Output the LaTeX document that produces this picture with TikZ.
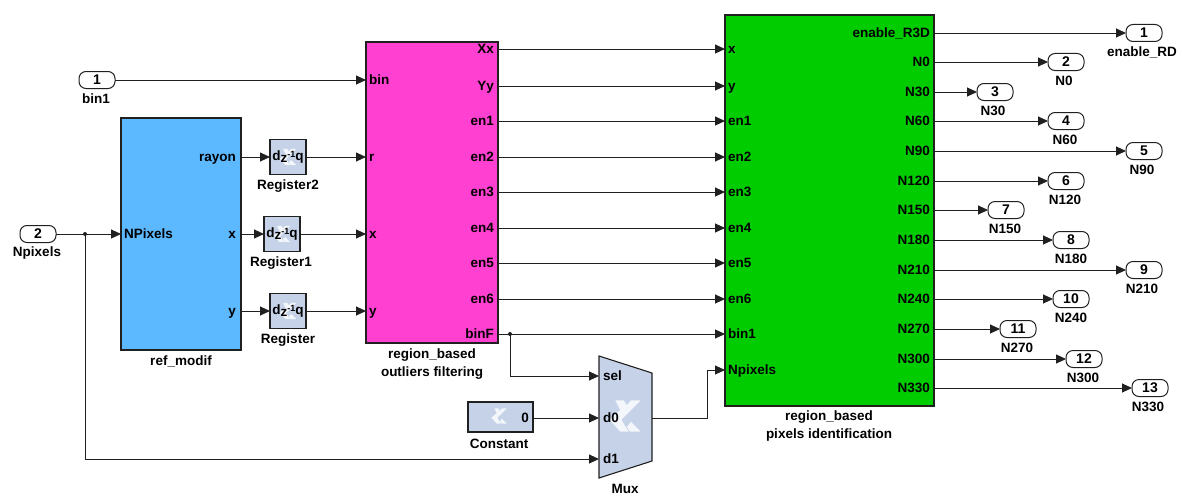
\documentclass[tikz,border=0pt]{standalone}
\usepackage{fontspec}
\setmainfont{Liberation Sans}
\usetikzlibrary{arrows.meta}
\usetikzlibrary{calc}
\usetikzlibrary{positioning}

\definecolor{wirecol}{HTML}{202020}
\definecolor{modifcol}{HTML}{5CB8FF}
\definecolor{filtercol}{HTML}{FF40D0}
\definecolor{identcol}{HTML}{00CC00}
\definecolor{xilcol}{HTML}{C5D2E8}

\newcommand{\regtext}{d\raisebox{-2pt}{z}\raisebox{3pt}{\fontsize{9pt}{9pt}\selectfont -1}q}

\begin{document}
\begin{tikzpicture}[
		x=1pt,
		y=-1pt,
		font=\fontsize{13.5pt}{15pt}\selectfont\bfseries,
		>={Triangle[length=10pt,width=9pt]},
		wire/.style={draw=wirecol,line width=0.9pt},
	]
		\tikzset{block/.style={
			draw=wirecol,
			rectangle,
			line width=1.1pt,
			inner sep=0,
			outer sep=0,
		}}
		\tikzset{portbox/.style={
			draw=wirecol,
			rectangle,
			rounded corners=7,
			line width=1pt,
			fill=white,
			minimum width=36,
			minimum height=17,
			inner sep=0,
			outer sep=0,
			font=\fontsize{14pt}{15pt}\selectfont\bfseries,
		}}
		\tikzset{regbox/.style={
			block,
			fill=xilcol,
			minimum width=36,
			minimum height=35,
		}}
		\tikzset{lab/.style={
			inner sep=0,
			anchor=center,
		}}
		\tikzset{pinl/.style={
			inner sep=0,
			anchor=west,
			text height=10,
			text depth=1,
		}}
		\tikzset{pinr/.style={
			inner sep=0,
			anchor=east,
			text height=10,
			text depth=1,
		}}
		\tikzset{logo/.pic={
			\fill[white,opacity=0.8] (-8,-13) -- (-1,-13) -- (1.5,-9) -- (5,-13) -- (13,-13) -- (1,-1) -- (-3,3) -- (0,8) -- (3,13) -- (-4,13) -- (-13,3) -- (-4,-5) -- cycle;
			\fill[white,opacity=0.8] (5,5) -- (13,13) -- (4,13) -- (1.5,9) -- cycle;
		}}
		\useasboundingbox (0,0) rectangle (1182,495);

		%---------------------------------
		% Input
		\node[portbox] (bin1) at (97,80) {1};
		\node[lab] (bin1lab) at (96,99) {bin1};
		\node[portbox] (npix) at (38,234) {2};
		\node[lab] (npixlab) at (37,253) {Npixels};

		%---------------------------------
		% ref_modif
		\node[
			block,
			fill=modifcol,
			minimum width=120,
			minimum height=232,
		] (modif) at (181,234) {};
		\node[lab] (modiflab) at (181,361) {ref\_modif};
		\node[pinl] (modifn) at (124,234) {NPixels};
		\node[pinr] (modifr) at (236,157) {rayon};
		\node[pinr] (modifx) at (236,234) {x};
		\node[pinr] (modify) at (236,311) {y};

		%---------------------------------
		% Registers
		\node[regbox] (reg2) at (288,157) {};
		\node[regbox] (reg1) at (282,234) {};
		\node[regbox] (reg0) at (288,311) {};
		\pic[scale=0.62] at (reg2) {logo};
		\pic[scale=0.62] at (reg1) {logo};
		\pic[scale=0.62] at (reg0) {logo};
		\node[lab] (reg2txt) at (288,157) {\regtext};
		\node[lab] (reg1txt) at (282,234) {\regtext};
		\node[lab] (reg0txt) at (288,311) {\regtext};
		\node[lab] (reg2lab) at (288,186) {Register2};
		\node[lab] (reg1lab) at (281,263) {Register1};
		\node[lab] (reg0lab) at (288,340) {Register};

		%---------------------------------
		% outliers filtering
		\node[
			block,
			fill=filtercol,
			minimum width=132,
			minimum height=301,
		] (filter) at (432,192.5) {};
		\node[
			lab,
			align=center,
			font=\fontsize{13.5pt}{17.5pt}\selectfont\bfseries,
		] (filterlab) at (432,364) {region\_based\\outliers filtering};
		\node[pinl] (filterbin) at (369,80) {bin};
		\node[pinl] (filterr) at (369,157) {r};
		\node[pinl] (filterx) at (369,234) {x};
		\node[pinl] (filtery) at (369,311) {y};
		\node[pinr] (fxx) at (494,49) {Xx};
		\node[pinr] (fyy) at (494,86) {Yy};
		\node[pinr] (fen1) at (494,121) {en1};
		\node[pinr] (fen2) at (494,157) {en2};
		\node[pinr] (fen3) at (494,192) {en3};
		\node[pinr] (fen4) at (494,228) {en4};
		\node[pinr] (fen5) at (494,263) {en5};
		\node[pinr] (fen6) at (494,299) {en6};
		\node[pinr] (fbinf) at (494,334) {binF};

		%---------------------------------
		% pixels identification
		\node[
			block,
			fill=identcol,
			minimum width=209,
			minimum height=391,
		] (ident) at (829.5,210.5) {};
		\node[
			lab,
			align=center,
			font=\fontsize{13.5pt}{17.5pt}\selectfont\bfseries,
		] (identlab) at (829,426) {region\_based\\pixels identification};
		\node[pinl] (gx) at (728,49) {x};
		\node[pinl] (gy) at (728,86) {y};
		\node[pinl] (gen1) at (728,121) {en1};
		\node[pinl] (gen2) at (728,157) {en2};
		\node[pinl] (gen3) at (728,192) {en3};
		\node[pinl] (gen4) at (728,228) {en4};
		\node[pinl] (gen5) at (728,263) {en5};
		\node[pinl] (gen6) at (728,299) {en6};
		\node[pinl] (gbin) at (728,334) {bin1};
		\node[pinl] (gnpix) at (728,370) {Npixels};
		\node[pinr] (gr3d) at (930,33) {enable\_R3D};
		\node[pinr] (gn0) at (930,62) {N0};
		\node[pinr] (gn30) at (930,92) {N30};
		\node[pinr] (gn60) at (930,121) {N60};
		\node[pinr] (gn90) at (930,151) {N90};
		\node[pinr] (gn120) at (930,181) {N120};
		\node[pinr] (gn150) at (930,210) {N150};
		\node[pinr] (gn180) at (930,240) {N180};
		\node[pinr] (gn210) at (930,270) {N210};
		\node[pinr] (gn240) at (930,299) {N240};
		\node[pinr] (gn270) at (930,329) {N270};
		\node[pinr] (gn300) at (930,359) {N300};
		\node[pinr] (gn330) at (930,388) {N330};

		%---------------------------------
		% Constant and Mux
		\node[
			block,
			fill=xilcol,
			minimum width=65,
			minimum height=30,
		] (const) at (500.5,417) {};
		\pic[scale=0.58] at (499,416) {logo};
		\node[pinr] (constval) at (529,418) {0};
		\node[lab] (constlab) at (499,444) {Constant};

		\coordinate (muxtl) at (599,356);
		\coordinate (muxtr) at (652,373);
		\coordinate (muxbr) at (652,461);
		\coordinate (muxbl) at (599,478);
		\coordinate (muxsel) at (599,376);
		\coordinate (muxd0) at (599,418);
		\coordinate (muxd1) at (599,459);
		\coordinate (muxout) at (652,418);
		\coordinate (muxbend) at (707,418);
		\fill[xilcol] (muxtl) -- (muxtr) -- (muxbr) -- (muxbl) -- cycle;
		\pic[scale=1.2] at (625,416) {logo};
		\draw[block] (muxtl) -- (muxtr) -- (muxbr) -- (muxbl) -- cycle;
		\node[pinl] (muxsellab) at (603,376) {sel};
		\node[pinl] (muxd0lab) at (603,418) {d0};
		\node[pinl] (muxd1lab) at (603,459) {d1};
		\node[lab] (muxlab) at (625,488.5) {Mux};

		%---------------------------------
		% Output
		\node[portbox,anchor=west] (o1) at (1126,33) {1};
		\node[portbox,anchor=west] (o2) at (1048,62) {2};
		\node[portbox,anchor=west] (o3) at (977,92) {3};
		\node[portbox,anchor=west] (o4) at (1048,121) {4};
		\node[portbox,anchor=west] (o5) at (1126,151) {5};
		\node[portbox,anchor=west] (o6) at (1048,181) {6};
		\node[portbox,anchor=west] (o7) at (988,210) {7};
		\node[portbox,anchor=west] (o8) at (1053,240) {8};
		\node[portbox,anchor=west] (o9) at (1126,270) {9};
		\node[portbox,anchor=west] (o10) at (1053,299) {10};
		\node[portbox,anchor=west] (o11) at (1000,329) {11};
		\node[portbox,anchor=west] (o12) at (1066,359) {12};
		\node[portbox,anchor=west] (o13) at (1132,388) {13};

		\node[lab] (o1lab) at (1142,52) {enable\_RD};
		\node[lab] (o2lab) at (1064,81) {N0};
		\node[lab] (o3lab) at (993,111) {N30};
		\node[lab] (o4lab) at (1065,140) {N60};
		\node[lab] (o5lab) at (1142,170) {N90};
		\node[lab] (o6lab) at (1065,200) {N120};
		\node[lab] (o7lab) at (1005,229) {N150};
		\node[lab] (o8lab) at (1071,259) {N180};
		\node[lab] (o9lab) at (1142,289) {N210};
		\node[lab] (o10lab) at (1071,318) {N240};
		\node[lab] (o11lab) at (1017,348) {N270};
		\node[lab] (o12lab) at (1083,378) {N300};
		\node[lab] (o13lab) at (1148,407) {N330};

		%---------------------------------
		% Wires
		\draw[wire,->] (bin1) -- (filter.west |- filterbin);
		\draw[wire,->] (npix) -- (modif.west |- modifn);
		\draw[wire,->] (modif.east |- modifr) -- (reg2);
		\draw[wire,->] (modif.east |- modifx) -- (reg1);
		\draw[wire,->] (modif.east |- modify) -- (reg0);
		\draw[wire,->] (reg2) -- (filter.west |- filterr);
		\draw[wire,->] (reg1) -- (filter.west |- filterx);
		\draw[wire,->] (reg0) -- (filter.west |- filtery);

		\draw[wire,->] (filter.east |- fxx) -- (ident.west |- gx);
		\draw[wire,->] (filter.east |- fyy) -- (ident.west |- gy);
		\draw[wire,->] (filter.east |- fen1) -- (ident.west |- gen1);
		\draw[wire,->] (filter.east |- fen2) -- (ident.west |- gen2);
		\draw[wire,->] (filter.east |- fen3) -- (ident.west |- gen3);
		\draw[wire,->] (filter.east |- fen4) -- (ident.west |- gen4);
		\draw[wire,->] (filter.east |- fen5) -- (ident.west |- gen5);
		\draw[wire,->] (filter.east |- fen6) -- (ident.west |- gen6);
		\draw[wire,->] (filter.east |- fbinf) -- (ident.west |- gbin);

		\coordinate (npixdot) at (85,234);
		\coordinate (bindot) at (510,334);
		\fill[wirecol] (npixdot) circle (2);
		\fill[wirecol] (bindot) circle (2);
		\draw[wire,->] (bindot) |- (muxsel);
		\draw[wire,->] (npixdot) |- (muxd1);
		\draw[wire,->] (const.east |- muxd0) -- (muxd0);
		\draw[wire,->] (muxout) -- (muxbend) |- (ident.west |- gnpix);

		\draw[wire,->] (ident.east |- gr3d) -- (o1);
		\draw[wire,->] (ident.east |- gn0) -- (o2);
		\draw[wire,->] (ident.east |- gn30) -- (o3);
		\draw[wire,->] (ident.east |- gn60) -- (o4);
		\draw[wire,->] (ident.east |- gn90) -- (o5);
		\draw[wire,->] (ident.east |- gn120) -- (o6);
		\draw[wire,->] (ident.east |- gn150) -- (o7);
		\draw[wire,->] (ident.east |- gn180) -- (o8);
		\draw[wire,->] (ident.east |- gn210) -- (o9);
		\draw[wire,->] (ident.east |- gn240) -- (o10);
		\draw[wire,->] (ident.east |- gn270) -- (o11);
		\draw[wire,->] (ident.east |- gn300) -- (o12);
		\draw[wire,->] (ident.east |- gn330) -- (o13);
	\end{tikzpicture}
\end{document}
